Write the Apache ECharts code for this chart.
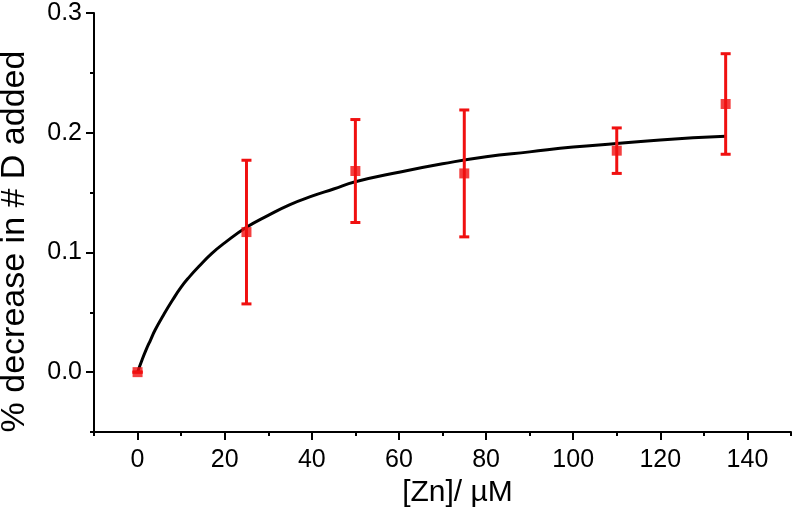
<!DOCTYPE html>
<html>
<head>
<meta charset="utf-8">
<script src="https://cdn.jsdelivr.net/npm/echarts@6/dist/echarts.min.js"></script>
<style>
html,body{margin:0;padding:0;background:#fff;}
#chart{width:792px;height:524px;}
</style>
</head>
<body>
<div id="chart"></div>
<script>
// ---- data ----
var concX = [0, 25, 50, 75, 110, 135];
var decreaseY = [0.000, 0.117, 0.168, 0.166, 0.185, 0.224];
var errY = [0.000, 0.060, 0.043, 0.053, 0.019, 0.042];

var fitX = [0, 1, 2, 3, 4, 6, 8, 10, 12, 14, 17, 20, 25, 30, 35, 40, 45, 50, 60, 70, 80, 90, 100, 110, 120, 135];
var fitY = [0.000, 0.010, 0.019, 0.027, 0.035, 0.048, 0.060, 0.071, 0.080, 0.088, 0.099, 0.108, 0.121, 0.131, 0.140, 0.147, 0.153, 0.159, 0.167, 0.174, 0.180, 0.184, 0.188, 0.191, 0.194, 0.197];

var xMajorTicks = [0, 20, 40, 60, 80, 100, 120, 140];
var xMinorTicks = [-10, 10, 30, 50, 70, 90, 110, 130, 150];
var yMajorTicks = [0, 0.1, 0.2, 0.3];
var yMinorTicks = [-0.05, 0.05, 0.15, 0.25];

var xTitle = '[Zn]/ \u00b5M';
var yTitle = '% decrease in # D added';

// ---- build ----
var pointData = concX.map(function (x, i) { return [x, decreaseY[i]]; });
var errData = concX.map(function (x, i) { return [x, decreaseY[i] - errY[i], decreaseY[i] + errY[i]]; });
var fitData = fitX.map(function (x, i) { return [x, fitY[i]]; });

var RED = '#f01010';
var FONT = 'Liberation Sans, Arial, sans-serif';
var gridRect = { left: 94, top: 13, width: 697, height: 419, containLabel: false, outerBoundsMode: 'none' };

var chart = echarts.init(document.getElementById('chart'), null, { renderer: 'canvas' });
chart.setOption({
  backgroundColor: '#ffffff',
  animation: false,
  grid: [
    Object.assign({}, gridRect),
    Object.assign({}, gridRect)
  ],
  xAxis: [
    {
      type: 'value', gridIndex: 0, min: -10, max: 150,
      axisLine: { show: true, onZero: false, lineStyle: { color: '#000', width: 2 } },
      axisTick: { show: true, inside: false, length: 8, lineStyle: { color: '#000', width: 2 }, customValues: xMajorTicks },
      axisLabel: { show: true, customValues: xMajorTicks, color: '#000', fontSize: 25, fontFamily: FONT, margin: 16 },
      splitLine: { show: false },
      name: xTitle, nameLocation: 'middle', nameGap: 46,
      nameTextStyle: { color: '#000', fontSize: 30, fontFamily: FONT, padding: [0, 0, 0, 30] }
    },
    {
      type: 'value', gridIndex: 1, min: -10, max: 150,
      axisLine: { show: false, onZero: false },
      axisTick: { show: true, inside: false, length: 4, lineStyle: { color: '#000', width: 2 }, customValues: xMinorTicks },
      axisLabel: { show: false },
      splitLine: { show: false }
    }
  ],
  yAxis: [
    {
      type: 'value', gridIndex: 0, min: -0.05, max: 0.3,
      axisLine: { show: true, onZero: false, lineStyle: { color: '#000', width: 2 } },
      axisTick: { show: true, inside: false, length: 8, lineStyle: { color: '#000', width: 2 }, customValues: yMajorTicks },
      axisLabel: { show: true, customValues: yMajorTicks, color: '#000', fontSize: 25, fontFamily: FONT, margin: 12,
        formatter: function (v) { return v.toFixed(1); } },
      splitLine: { show: false },
      name: yTitle, nameLocation: 'middle', nameRotate: 90, nameGap: 62,
      nameTextStyle: { color: '#000', fontSize: 34, fontFamily: FONT, padding: [0, 38, 0, 0] }
    },
    {
      type: 'value', gridIndex: 1, min: -0.05, max: 0.3,
      axisLine: { show: false, onZero: false },
      axisTick: { show: true, inside: false, length: 4, lineStyle: { color: '#000', width: 2 }, customValues: yMinorTicks },
      axisLabel: { show: false },
      splitLine: { show: false }
    }
  ],
  series: [
    {
      type: 'line', xAxisIndex: 0, yAxisIndex: 0, data: fitData, smooth: true,
      showSymbol: false, symbol: 'none', z: 2,
      lineStyle: { color: '#000', width: 3 }
    },
    {
      type: 'custom', xAxisIndex: 0, yAxisIndex: 0, data: errData, z: 3,
      renderItem: function (params, api) {
        var x = api.value(0);
        var lo = api.coord([x, api.value(1)]);
        var hi = api.coord([x, api.value(2)]);
        var hw = 5;
        var style = { stroke: RED, lineWidth: 3 };
        return {
          type: 'group',
          children: [
            { type: 'line', shape: { x1: lo[0], y1: lo[1], x2: hi[0], y2: hi[1] }, style: style },
            { type: 'line', shape: { x1: lo[0] - hw, y1: lo[1], x2: lo[0] + hw, y2: lo[1] }, style: style },
            { type: 'line', shape: { x1: hi[0] - hw, y1: hi[1], x2: hi[0] + hw, y2: hi[1] }, style: style }
          ]
        };
      }
    },
    {
      type: 'scatter', xAxisIndex: 0, yAxisIndex: 0, data: pointData, z: 4,
      symbol: 'rect', symbolSize: 10,
      itemStyle: { color: RED }
    }
  ]
});
</script>
</body>
</html>
